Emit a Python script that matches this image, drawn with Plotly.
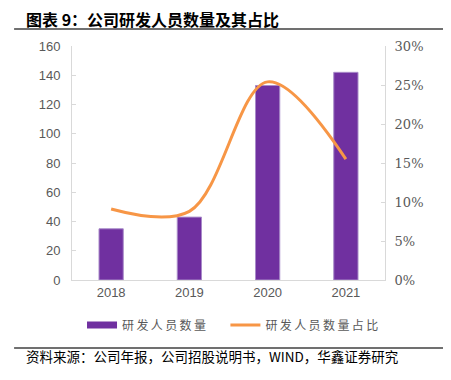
import plotly.graph_objects as go

years = ["2018", "2019", "2020", "2021"]
staff = [35, 43, 133, 142]
ratio = [9.1, 8.8, 25.4, 15.5]
left_ticks = [0, 20, 40, 60, 80, 100, 120, 140, 160]
right_ticks = [0, 5, 10, 15, 20, 25, 30]
name_bar = "研发人员数量"
name_line = "研发人员数量占比"

def spaced(s):
    return "\u2009".join(s)

fig = go.Figure()
fig.add_trace(go.Bar(x=years, y=staff, name=name_bar, showlegend=False,
                     marker=dict(color="#7030A0", line=dict(color="#A98BC9", width=1)),
                     width=0.31, yaxis="y"))
# legend entry for bars drawn as a wide rectangle
fig.add_trace(go.Scatter(x=[None], y=[None], name=spaced(name_bar) + "\u2003\u2009", mode="lines",
                         line=dict(color="#7030A0", width=7), yaxis="y"))
fig.add_trace(go.Scatter(x=years, y=ratio, name=spaced(name_line), mode="lines",
                         line=dict(color="#F79646", width=3, shape="spline", smoothing=1), yaxis="y2"))

axis_common = dict(showgrid=False, zeroline=False, showline=True, linecolor="#D9D9D9", linewidth=1,
                   ticks="inside", ticklen=4, tickcolor="#D9D9D9")
fig.update_layout(
    width=443, height=372,
    margin=dict(l=64, r=66, t=38, b=100),
    paper_bgcolor="white", plot_bgcolor="white",
    showlegend=True,
    legend=dict(orientation="h", x=0.032, xanchor="left", y=-0.192, yanchor="middle",
                font=dict(family="Noto Sans CJK SC", size=12, color="#595959")),
    xaxis=dict(showgrid=False, zeroline=False, showline=True, linecolor="#D9D9D9", ticks="",
               tickfont=dict(family="Liberation Sans, Arial", size=13, color="#595959")),
    yaxis=dict(range=[0, 160], tickvals=left_ticks, ticklabelstandoff=8, **axis_common,
               tickfont=dict(family="Liberation Sans, Arial", size=13, color="#595959")),
    yaxis2=dict(range=[0, 30], tickvals=right_ticks, ticktext=[f"{v}%" for v in right_ticks],
                overlaying="y", side="right", ticklabelstandoff=6, **axis_common,
                tickfont=dict(family="DejaVu Serif", size=13, color="#595959")),
    font=dict(family="Noto Sans CJK SC"),
)
fig.add_annotation(text="图表 9：公司研发人员数量及其占比", xref="paper", yref="paper",
                   x=-0.153, y=1.115, xanchor="left", yanchor="middle", showarrow=False,
                   font=dict(family="Noto Sans CJK SC", size=16, color="#000000", weight="bold"))
fig.add_shape(type="line", xref="paper", yref="paper", x0=-0.185, x1=1.198, y0=1.0726, y1=1.0726,
              line=dict(color="#404040", width=1.5))
fig.add_annotation(text="资料来源：公司年报，公司招股说明书，WIND，华鑫证券研究", xref="paper", yref="paper",
                   x=-0.153, y=-0.3235, xanchor="left", yanchor="middle", showarrow=False,
                   font=dict(family="Noto Sans CJK SC", size=13.5, color="#000000"))
fig.add_shape(type="line", xref="paper", yref="paper", x0=-0.185, x1=1.198, y0=-0.2906, y1=-0.2906,
              line=dict(color="#404040", width=1.5))
fig.write_html("out.html")
